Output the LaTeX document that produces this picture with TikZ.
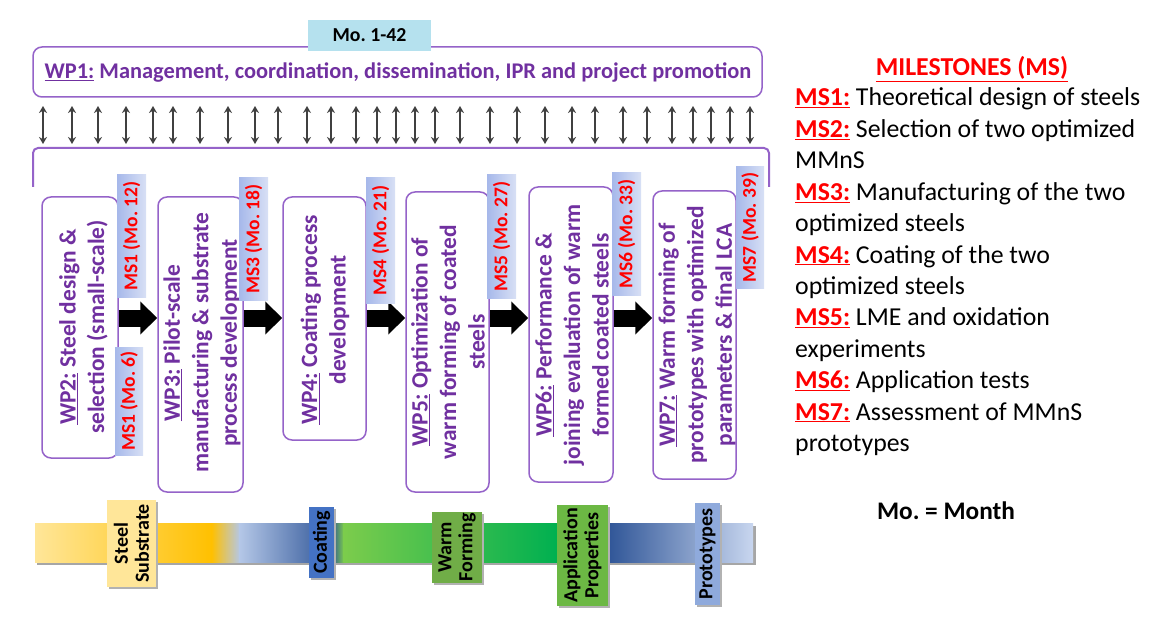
\documentclass[tikz,border=0pt]{standalone}
\usepackage{fontspec}
\setmainfont{Carlito}
\usetikzlibrary{arrows.meta}
\definecolor{ptext}{HTML}{7030A0}
\definecolor{pline}{HTML}{9563C9}
\definecolor{tagdark}{HTML}{A6B8EA}
\definecolor{taglight}{HTML}{D8E0F5}
\definecolor{cyantag}{HTML}{B5E1EE}
\definecolor{ylight}{HTML}{FFE699}
\definecolor{ygold}{HTML}{FFC000}
\definecolor{blight}{HTML}{B4C7E7}
\definecolor{bdark}{HTML}{2F5597}
\definecolor{glight}{HTML}{7CCC4C}
\definecolor{gdark}{HTML}{00B050}
\definecolor{bpale}{HTML}{C8D6EF}
\definecolor{coatblue}{HTML}{4472C4}
\definecolor{wgreen}{HTML}{70AD47}
\definecolor{agreen}{HTML}{6CB844}
\definecolor{protob}{HTML}{8FAADC}
\newcommand\msl[1]{\textcolor{red}{\bfseries\underline{#1}}}
\tikzset{
  wpbox/.style={draw=pline, line width=1.5pt, rounded corners=9pt, fill=white, inner sep=0pt},
  wptext/.style={rotate=90, align=center, text=ptext, inner sep=0pt,
    font=\fontsize{23.4}{28.5}\selectfont\bfseries},
  mstag/.style={rotate=90, left color=tagdark, right color=taglight, text=red, inner sep=0pt,
    font=\fontsize{19.5}{22}\selectfont\bfseries},
  bartag/.style={rotate=90, align=center, inner sep=0pt, text=black,
    font=\fontsize{20}{21}\selectfont\bfseries},
  darr/.style={{Stealth[length=7pt,width=8pt]}-{Stealth[length=7pt,width=8pt]}, line width=1.5pt, draw=black!75},
  blockarr/.style={line width=17pt, -{Triangle[length=17pt,width=32pt]}, draw=black},
  mstext/.style={anchor=base west, inner sep=0pt, font=\fontsize{25.8}{31}\selectfont},
}
\begin{document}
\frenchspacing
\begin{tikzpicture}[x=1pt,y=-1pt]
\useasboundingbox (0,0) rectangle (1163,623);
\fill[white] (0,0) rectangle (1163,623);

% WP1 box and month tag
\node[wpbox, minimum width=729pt, minimum height=50pt] (wp1) at (397.5,72) {};
\node[text=ptext, font=\fontsize{22.4}{26}\selectfont\bfseries, inner sep=0pt] (wp1t) at (398,73)
  {\underline{WP1:} Management, coordination, dissemination, IPR and project promotion};
\node[fill=cyantag, minimum width=123pt, minimum height=31pt, inner sep=0pt,
  font=\fontsize{19.8}{22}\selectfont\bfseries] (mo) at (369.5,35.5) {Mo. 1-42};

% double arrows
\foreach \x [count=\i] in {43,72,98,126,153,173,200,228,255,278,307,331,356,377,396,415,435,460,490,517,545,572,595,623,647,672,693,711,730,750}{
  \coordinate (at\i) at (\x,106);
  \coordinate (ab\i) at (\x,144);
  \draw[darr] (at\i) -- (ab\i);
}

% bracket
\coordinate (bl) at (33,187);
\coordinate (br) at (769,187);
\draw[pline, line width=2pt, rounded corners=5pt] (bl) -- (33,148) -- (769,148) -- (br);

% WP boxes
\node[wpbox, minimum width=76pt, minimum height=261pt] (wp2) at (80,327.5) {};
\node[wpbox, minimum width=85pt, minimum height=295pt] (wp3) at (200.5,344.5) {};
\node[wpbox, minimum width=83pt, minimum height=243pt] (wp4) at (324.5,318.5) {};
\node[wpbox, minimum width=83pt, minimum height=300pt] (wp5) at (447.5,342) {};
\node[wpbox, minimum width=84pt, minimum height=295pt] (wp6) at (571,334.5) {};
\node[wpbox, minimum width=83pt, minimum height=288pt] (wp7) at (694.5,335) {};

\node[wptext] (wp2t) at (83.5,327) {\underline{WP2:} Steel design \&\\selection (small-scale)};
\node[wptext] (wp3t) at (202,343) {\underline{WP3:} Pilot-scale\\manufacturing \& substrate\\process development};
\node[wptext] (wp4t) at (325,320) {\underline{WP4:} Coating process\\development};
\node[wptext] (wp5t) at (448,342) {\underline{WP5:} Optimization of\\warm forming of coated\\steels};
\node[wptext] (wp6t) at (572,335) {\underline{WP6:} Performance \&\\joining evaluation of warm\\formed coated steels};
\node[wptext] (wp7t) at (697,335) {\underline{WP7:} Warm forming of\\prototypes with optimized\\parameters \& final LCA};

% block arrows
\coordinate (ar) at (0,318);
\draw[blockarr] (wp2.east |- ar) -- (wp3.west |- ar);
\draw[blockarr] (wp3.east |- ar) -- (wp4.west |- ar);
\draw[blockarr] (wp4.east |- ar) -- (wp5.west |- ar);
\draw[blockarr] (wp5.east |- ar) -- (wp6.west |- ar);
\draw[blockarr] (wp6.east |- ar) -- (wp7.west |- ar);

% milestone tags
\node[mstag, minimum width=122pt, minimum height=29pt] (ms1a) at (131.5,236) {MS1 (Mo. 12)};
\node[mstag, minimum width=108pt, minimum height=28pt] (ms1b) at (129,401) {MS1 (Mo. 6)};
\node[mstag, minimum width=122pt, minimum height=29pt] (ms3) at (253.5,239) {MS3 (Mo. 18)};
\node[mstag, minimum width=125pt, minimum height=29pt] (ms4) at (380.5,240.5) {MS4 (Mo. 21)};
\node[mstag, minimum width=123pt, minimum height=29pt] (ms5) at (501.5,236.5) {MS5 (Mo. 27)};
\node[mstag, minimum width=122pt, minimum height=29pt] (ms6) at (626.5,234) {MS6 (Mo. 33)};
\node[mstag, minimum width=121pt, minimum height=28pt] (ms7) at (750,227.5) {MS7 (Mo. 39)};

% bottom bar
\fill[black!35] (37,526) rectangle (756,565);
\shade[left color=ylight, right color=ygold] (35,523) rectangle (212,562);
\shade[left color=ygold, right color=blight] (211.5,523) rectangle (240,562);
\shade[left color=blight, right color=bdark] (239.5,523) rectangle (332,562);
\shade[left color=bdark, right color=glight] (331.5,523) rectangle (344,562);
\shade[left color=glight, right color=gdark] (343.5,523) rectangle (557,562);
\shade[left color=gdark, right color=bdark] (556.5,523) rectangle (608,562);
\shade[left color=bdark, right color=bpale] (607.5,523) rectangle (753,562);

\fill[black!30] (109,502) rectangle (158,589);
\node[bartag, fill=ylight, minimum width=87pt, minimum height=49pt] (steel) at (131.5,543.5) {Steel\\Substrate};
\fill[black!30] (311,509) rectangle (336,580);
\node[bartag, fill=coatblue, minimum width=71pt, minimum height=25pt] (coat) at (321.5,542.5) {Coating};
\fill[black!30] (434,514) rectangle (484,585);
\node[bartag, fill=wgreen, minimum width=71pt, minimum height=50pt] (warm) at (457,547.5) {Warm\\Forming};
\fill[black!30] (559,507) rectangle (610,608);
\node[bartag, fill=agreen, minimum width=101pt, minimum height=51pt] (appl) at (582.5,555.5) {Application\\Properties};
\fill[black!30] (697,505) rectangle (722,607);
\node[bartag, fill=protob, minimum width=102pt, minimum height=25pt] (proto) at (707.5,554) {Prototypes};

% milestones legend
\node[anchor=base, inner sep=0pt, text=red, font=\fontsize{25.8}{31}\selectfont\bfseries] (msh) at (972,76) {\underline{MILESTONES (MS)}};
\node[mstext] (l0) at (795,106) {\msl{MS1:} Theoretical design of steels};
\node[mstext] (l1) at (795,137.4) {\msl{MS2:} Selection of two optimized};
\node[mstext] (l2) at (795,168.8) {MMnS};
\node[mstext] (l3) at (795,200.2) {\msl{MS3:} Manufacturing of the two};
\node[mstext] (l4) at (795,231.6) {optimized steels};
\node[mstext] (l5) at (795,263) {\msl{MS4:} Coating of the two};
\node[mstext] (l6) at (795,294.4) {optimized steels};
\node[mstext] (l7) at (795,325.8) {\msl{MS5:} LME and oxidation};
\node[mstext] (l8) at (795,357.2) {experiments};
\node[mstext] (l9) at (795,388.6) {\msl{MS6:} Application tests};
\node[mstext] (l10) at (795,420) {\msl{MS7:} Assessment of MMnS};
\node[mstext] (l11) at (795,451.4) {prototypes};
\node[anchor=base, inner sep=0pt, font=\fontsize{25.3}{30}\selectfont\bfseries] (month) at (946,519) {Mo. = Month};
\end{tikzpicture}
\end{document}
